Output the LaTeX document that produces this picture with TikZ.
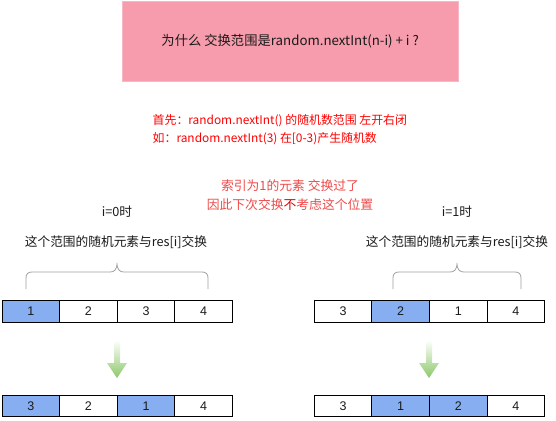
\documentclass[tikz,border=0pt]{standalone}
\usepackage{fontspec}
\setmainfont{Noto Sans CJK SC}
\newfontfamily\arialf{Liberation Sans}
\definecolor{pinkbox}{HTML}{F79CAC}
\definecolor{pinkedge}{HTML}{F5B8C4}
\definecolor{cellblue}{HTML}{88AEF2}
\definecolor{notered}{HTML}{F04848}
\definecolor{darknote}{HTML}{D80000}
\definecolor{arrowgreen}{HTML}{8CC86A}
\definecolor{bracegray}{HTML}{A0A0A0}
\definecolor{txt}{HTML}{1A1A1A}
\tikzset{
  cell/.style={draw=black, line width=0.9pt, minimum width=57.6pt, minimum height=21.5pt, inner sep=0pt, outer sep=0pt, font=\arialf\fontsize{12.5}{14}\selectfont, text=txt},
  hl/.style={fill=cellblue},
  lbl/.style={inner sep=0pt, font=\fontsize{12.7}{15}\selectfont, text=txt},
  redtxt/.style={inner sep=0pt, font=\fontsize{11.9}{14}\selectfont, text=red, anchor=west},
  brc/.style={draw=bracegray, line width=0.8pt},
  garrow/.style={top color=white, bottom color=arrowgreen, draw=none}
}
\begin{document}
\begin{tikzpicture}[x=1pt,y=-1pt]
\useasboundingbox (0,0) rectangle (556,420);
% title box
\node[draw=pinkedge, fill=pinkbox, minimum width=336pt, minimum height=80pt, inner sep=0pt, anchor=north west, font=\fontsize{13.3}{16}\selectfont, text=txt] (title) at (122,1) {为什么 交换范围是random.nextInt(n-i) + i ?};
% red notes
\node[redtxt] (n1) at (152.5,121) {首先：random.nextInt() 的随机数范围 左开右闭};
\node[redtxt] (n2) at (152.5,138.5) {如：random.nextInt(3) 在[0-3)产生随机数};
\node[inner sep=0pt, font=\fontsize{12.8}{15}\selectfont, text=notered] (m1) at (290,186) {索引为1的元素 交换过了};
\node[inner sep=0pt, font=\fontsize{12.8}{15}\selectfont, text=notered] (m2) at (290,205) {因此下次交换\textcolor{darknote}{不}考虑这个位置};
% labels
\node[lbl] (l1) at (117,212) {i=0时};
\node[lbl] (l2) at (116,242) {这个范围的随机元素与res[i]交换};
\node[lbl] (r1) at (457,212) {i=1时};
\node[lbl] (r2) at (457,242) {这个范围的随机元素与res[i]交换};
% braces
\draw[brc] (26,289) -- (26,278) .. controls (26,274) and (28,272) .. (32,272) -- (110,272) .. controls (114,272) and (117,270) .. (117,263) .. controls (117,270) and (120,272) .. (124,272) -- (202,272) .. controls (206,272) and (208,274) .. (208,278) -- (208,289);
\draw[brc] (393,289) -- (393,278) .. controls (393,274) and (395,272) .. (399,272) -- (450,272) .. controls (454,272) and (457,270) .. (457,263) .. controls (457,270) and (460,272) .. (464,272) -- (515,272) .. controls (519,272) and (521,274) .. (521,278) -- (521,289);
% left top row
\node[cell,hl,anchor=west] (a1) at (2,311.5) {1};
\node[cell,anchor=west] (a2) at (a1.east) {2};
\node[cell,anchor=west] (a3) at (a2.east) {3};
\node[cell,anchor=west] (a4) at (a3.east) {4};
% left bottom row
\node[cell,hl,anchor=west] (b1) at (2,406) {3};
\node[cell,anchor=west] (b2) at (b1.east) {2};
\node[cell,hl,anchor=west] (b3) at (b2.east) {1};
\node[cell,anchor=west] (b4) at (b3.east) {4};
% right top row
\node[cell,anchor=west] (c1) at (314.3,311.5) {3};
\node[cell,hl,anchor=west] (c2) at (c1.east) {2};
\node[cell,anchor=west] (c3) at (c2.east) {1};
\node[cell,anchor=west] (c4) at (c3.east) {4};
% right bottom row
\node[cell,anchor=west] (d1) at (314.3,406) {3};
\node[cell,hl,anchor=west] (d2) at (d1.east) {1};
\node[cell,hl,anchor=west] (d3) at (d2.east) {2};
\node[cell,anchor=west] (d4) at (d3.east) {4};
% green arrows
\shade[garrow] (114,340) -- (120,340) -- (120,363) -- (127,363) -- (117,378) -- (107,363) -- (114,363) -- cycle;
\shade[garrow] (426,340) -- (432,340) -- (432,363) -- (439,363) -- (429,378) -- (419,363) -- (426,363) -- cycle;
\end{tikzpicture}
\end{document}
